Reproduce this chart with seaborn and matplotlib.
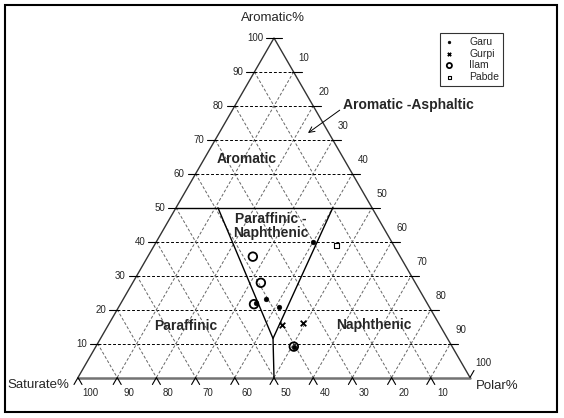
import numpy as np
import matplotlib
matplotlib.use('Agg')
import matplotlib.pyplot as plt
import pandas as pd
import seaborn as sns

# ternary data (percent)
garu_sat = [43.7, 40.5, 38.3, 20.2, 40.4]
garu_aro = [22.0, 23.0, 20.8, 39.8, 9.1]
garu_pol = [34.3, 36.5, 40.9, 40.0, 50.5]

gurpi_sat = [40.2, 34.6]
gurpi_aro = [15.5, 16.1]
gurpi_pol = [44.3, 49.3]

ilam_sat = [37.6, 39.4, 44.3, 40.4]
ilam_aro = [35.6, 27.9, 21.6, 9.1]
ilam_pol = [26.8, 32.7, 34.1, 50.5]

pabde_sat = [14.6]
pabde_aro = [38.8]
pabde_pol = [46.6]

# field boundaries (saturate, aromatic, polar)
bound_top = [(50, 50, 0), (0, 50, 50)]
bound_v = [(39.3, 50, 10.7), (44.5, 11.5, 44.0), (10.0, 50, 40.0)]
bound_stem = [(44.5, 11.5, 44.0), (50, 0, 50)]

tick_vals = list(range(10, 101, 10))

PX = 1 / 392.0  # one pixel in data units


def tern(s, a, p):
    s, a, p = np.asarray(s, float), np.asarray(a, float), np.asarray(p, float)
    tot = s + a + p
    a, p = a / tot, p / tot
    return p + a / 2, a * np.sqrt(3) / 2


def pix(x, y):
    return (x - 78) * PX, (377.5 - y) * PX


sns.set_style('white')
plt.rcParams['font.family'] = ['Liberation Sans', 'DejaVu Sans']

fig = plt.figure(figsize=(5.64, 4.18), dpi=100)
ax = fig.add_axes([0, 0, 1, 1])
ax.set_xlim(-78 * PX, 486 * PX)
ax.set_ylim(-40.5 * PX, 377.5 * PX)
ax.axis('off')

# grid
for k in range(1, 10):
    f = k * 10
    x, y = tern([100 - f, 0], [f, f], [0, 100 - f])
    ax.plot(x, y, color='black', lw=0.7, ls=(0, (3, 2)), zorder=1)
    x, y = tern([f, f], [100 - f, 0], [0, 100 - f])
    ax.plot(x, y, color='0.4', lw=0.7, ls=(0, (3, 2)), zorder=1)
    x, y = tern([100 - f, 0], [0, 100 - f], [f, f])
    ax.plot(x, y, color='0.4', lw=0.7, ls=(0, (3, 2)), zorder=1)

# triangle edges
x, y = tern([100, 0, 0, 100], [0, 100, 0, 0], [0, 0, 100, 0])
ax.plot(x[:3], y[:3], color='0.2', lw=1.0, zorder=2)
ax.plot([x[0], x[2]], [y[0], y[2]], color='0.45', lw=1.8, zorder=2)

# field boundaries
for seg in (bound_top, bound_v, bound_stem):
    s, a, p = zip(*seg)
    x, y = tern(s, a, p)
    ax.plot(x, y, color='black', lw=1.0, zorder=2)

tl = 8 * PX
# aromatic ticks (left edge)
for v in tick_vals:
    x, y = tern(100 - v, v, 0)
    x1 = x + tl if v == 100 else x + 2 * PX
    ax.plot([x - tl, x1], [y, y], color='black', lw=0.8, zorder=3)
    ax.text(x - 11 * PX, y, str(v), ha='right', va='center', fontsize=7)
# polar ticks (right edge)
for v in tick_vals:
    x, y = tern(0, 100 - v, v)
    if v < 100:
        ax.plot([x - 2 * PX, x + tl], [y, y], color='black', lw=0.8, zorder=3)
    else:
        ax.plot([x, x + 4 * PX], [y, y + 7 * PX], color='black', lw=0.8, zorder=3)
    ax.text(x + 5 * PX, y + 14 * PX, str(v), ha='left', va='center', fontsize=7)
# saturate ticks (bottom edge)
for v in tick_vals:
    x, y = tern(v, 0, 100 - v)
    ax.plot([x - 4 * PX, x, x + 4 * PX], [y - 7 * PX, y, y - 7 * PX],
            color='black', lw=0.8, zorder=3)
    ax.text(x + 12 * PX, y - 15 * PX, str(v), ha='center', va='center', fontsize=7)

# axis titles
ax.text(*pix(273, 18), 'Aromatic%', ha='center', va='center', fontsize=9.5)
ax.text(*pix(38, 385), 'Saturate%', ha='center', va='center', fontsize=9.5)
ax.text(*pix(497, 386), 'Polar%', ha='center', va='center', fontsize=9.5)

# field names
bold = dict(ha='center', va='center', fontsize=10, fontweight='bold')
ax.text(*pix(247, 159), 'Aromatic', **bold)
ax.text(*pix(271, 226), 'Paraffinic -\nNaphthenic', linespacing=1.05, **bold)
ax.text(*pix(186, 326), 'Paraffinic', **bold)
ax.text(*pix(374, 325), 'Naphthenic', **bold)
ax.annotate('Aromatic -Asphaltic', xy=pix(308, 133), xytext=pix(343, 105),
            ha='left', va='center', fontsize=10, fontweight='bold',
            arrowprops=dict(arrowstyle='->', color='black', lw=0.7,
                            shrinkA=0, shrinkB=0, relpos=(0, 0.3)))

# samples
groups = [
    ('Garu', garu_sat, garu_aro, garu_pol),
    ('Gurpi', gurpi_sat, gurpi_aro, gurpi_pol),
    ('Ilam', ilam_sat, ilam_aro, ilam_pol),
    ('Pabde', pabde_sat, pabde_aro, pabde_pol),
]
frames = []
for name, s, a, p in groups:
    x, y = tern(s, a, p)
    frames.append(pd.DataFrame({'x': x, 'y': y, 'formation': name}))
df = pd.concat(frames, ignore_index=True)

sns.scatterplot(data=df[df.formation == 'Garu'], x='x', y='y', ax=ax, marker='o',
                s=12, color='black', edgecolor='black', linewidth=0.3,
                label='Garu', zorder=6)
sns.scatterplot(data=df[df.formation == 'Gurpi'], x='x', y='y', ax=ax, marker='x',
                s=16, color='black', linewidth=1.3, label='Gurpi', zorder=6)
sns.scatterplot(data=df[df.formation == 'Ilam'], x='x', y='y', ax=ax, marker='o',
                s=38, facecolor='none', edgecolor='black', linewidth=1.3,
                label='Ilam', zorder=5)
sns.scatterplot(data=df[df.formation == 'Pabde'], x='x', y='y', ax=ax, marker='s',
                s=12, facecolor='none', edgecolor='black', linewidth=0.8,
                label='Pabde', zorder=6)
ax.set_xlabel('')
ax.set_ylabel('')

leg = ax.legend(loc='upper left', bbox_to_anchor=(440 / 564, 1 - 33 / 418),
                bbox_transform=fig.transFigure, fontsize=7.5, frameon=True,
                fancybox=False, edgecolor='black', borderpad=0.4,
                handlelength=1.0, handletextpad=1.4, labelspacing=0.15,
                markerscale=0.6, borderaxespad=0)
leg.get_frame().set_linewidth(0.8)

# picture frame
fig.patches.append(plt.Rectangle((5 / 564, 1 - 412 / 418), 552 / 564, 407 / 418,
                                 transform=fig.transFigure, fill=False,
                                 edgecolor='black', lw=1.5))

fig.savefig('out.png', dpi=100)
